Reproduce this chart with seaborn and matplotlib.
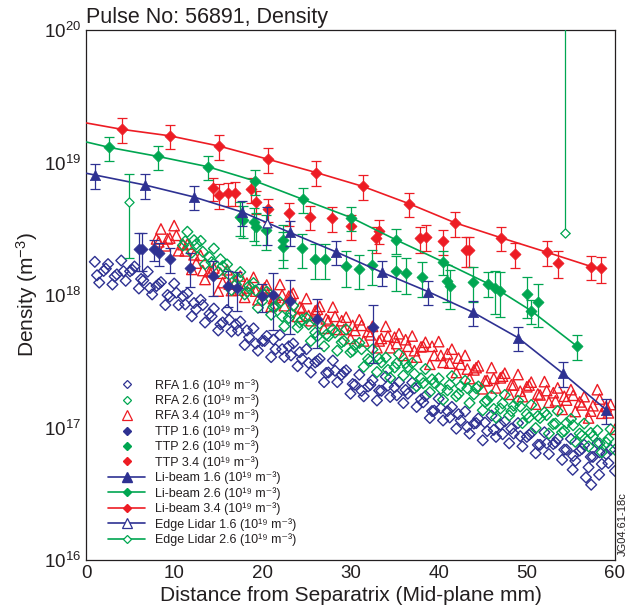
import numpy as np
import matplotlib
matplotlib.use("Agg")
import matplotlib.pyplot as plt
import seaborn as sns
from matplotlib.lines import Line2D
from matplotlib.ticker import LogLocator, NullFormatter, LogFormatterMathtext, FixedLocator

BLUE = "#2e3192"
GREEN = "#00a651"
RED = "#ed1c24"
INK = "#231f20"
UNIT = 1e17  # all density lists below are in units of 1e17 m^-3

TITLE = "Pulse No: 56891, Density"
XLABEL = "Distance from Separatrix (Mid-plane mm)"
YLABEL = "Density (m$^{-3}$)"
XTICKS = [0, 10, 20, 30, 40, 50, 60]
TAG = "JG04.61-18c"

# ---------------- RFA (reciprocating probe), first sweep ----------------
rfa16_x = [1.0, 1.5, 2.0, 2.5, 3.0, 3.5, 4.0, 4.5, 5.0, 5.5,
           6.0, 6.5, 7.0, 7.5, 8.0, 8.5, 9.0, 9.5, 10.0, 10.5,
           11.0, 11.5, 12.0, 12.5, 13.0, 13.5, 14.0, 14.5, 15.0, 15.5,
           16.0, 16.5, 17.0, 17.5, 18.0, 18.5, 19.0, 19.5, 20.0, 20.5,
           21.0, 21.5, 22.0, 22.5, 23.0, 23.5, 24.0, 24.5, 25.0, 25.5,
           26.0, 26.5, 27.0, 27.5, 28.0, 28.5, 29.0, 29.5, 30.0, 30.5,
           31.0, 31.5, 32.0, 32.5, 33.0, 33.5, 34.0, 34.5, 35.0, 35.5,
           36.0, 36.5, 37.0, 37.5, 38.0, 38.5, 39.0, 39.5, 40.0, 40.5,
           41.0, 41.5, 42.0, 42.5, 43.0, 43.5, 44.0, 44.5, 45.0, 45.5,
           46.0, 46.5, 47.0, 47.5, 48.0, 48.5, 49.0, 49.5, 50.0, 50.5,
           51.0, 51.5, 52.0, 52.5, 53.0, 53.5, 54.0, 54.5, 55.0, 55.5,
           56.0, 56.5, 57.0, 57.5, 58.0, 58.5, 59.0, 59.5, 60.0,
           55.2, 56.7, 57.3, 58.2]
rfa16_n = [17.8, 12.4, 15.2, 17.1, 12.0, 14.3, 18.2, 12.8, 15.1, 16.4,
           11.2, 12.9, 15.0, 10.1, 11.7, 12.5, 8.4, 9.7, 12.2, 8.4,
           9.8, 10.3, 6.9, 7.8, 9.2, 6.2, 7.2, 7.9, 5.4, 6.2,
           7.7, 5.3, 6.0, 6.3, 4.2, 4.8, 5.6, 3.8, 4.5, 4.9,
           3.4, 3.9, 5.0, 3.4, 4.1, 4.3, 2.9, 3.3, 3.9, 2.6,
           3.1, 3.3, 2.2, 2.6, 3.2, 2.2, 2.5, 2.7, 1.8, 2.1,
           2.5, 1.72, 2.04, 2.28, 1.6, 1.89, 2.42, 1.7, 2.01, 2.2,
           1.53, 1.8, 2.18, 1.43, 1.63, 1.73, 1.18, 1.34, 1.65, 1.13,
           1.33, 1.43, 0.98, 1.13, 1.32, 0.9, 1.07, 1.17, 0.8, 0.94,
           1.23, 0.85, 1.05, 1.11, 0.76, 0.9, 1.08, 0.72, 0.85, 0.91,
           0.64, 0.74, 0.92, 0.63, 0.75, 0.82, 0.57, 0.68, 0.82, 0.56,
           0.67, 0.74, 0.5, 0.6, 0.76, 0.53, 0.63, 0.68, 0.47,
           0.48, 0.42, 0.37, 0.44]

rfa26_x = [11.0, 11.5, 12.0, 12.5, 13.0, 13.5, 14.0, 14.5, 15.0, 15.5,
           16.0, 16.5, 17.0, 17.5, 18.0, 18.5, 19.0, 19.5, 20.0, 20.5,
           21.0, 21.5, 22.0, 22.5, 23.0, 23.5, 24.0, 24.5, 25.0, 25.5,
           26.0, 26.5, 27.0, 27.5, 28.0, 28.5, 29.0, 29.5, 30.0, 30.5,
           31.0, 31.5, 32.0, 32.5, 33.0, 33.5, 34.0, 34.5, 35.0, 35.5,
           36.0, 36.5, 37.0, 37.5, 38.0, 38.5, 39.0, 39.5, 40.0, 40.5,
           41.0, 41.5, 42.0, 42.5, 43.0, 43.5, 44.0, 44.5, 45.0, 45.5,
           46.0, 46.5, 47.0, 47.5, 48.0, 48.5, 49.0, 49.5, 50.0, 50.5,
           51.0, 51.5, 52.0, 52.5, 53.0, 53.5, 54.0, 54.5, 55.0, 55.5,
           56.0, 56.5, 57.0, 57.5, 58.0, 58.5, 59.0, 59.5, 60.0]
rfa26_n = [23.7, 30.0, 20.9, 24.2, 25.6, 17.1, 19.3, 22.4, 14.9, 16.5,
           17.0, 10.9, 12.0, 14.9, 10.1, 11.7, 12.3, 8.0, 9.0, 10.6,
           7.1, 8.2, 8.8, 5.8, 6.7, 8.3, 5.7, 6.5, 6.7, 4.5,
           5.2, 6.1, 4.1, 4.9, 5.5, 3.8, 4.4, 5.5, 3.7, 4.2,
           4.35, 2.87, 3.28, 3.88, 2.62, 3.1, 3.37, 2.37, 2.84, 3.57,
           2.47, 2.86, 3.07, 2.05, 2.35, 2.76, 1.85, 2.17, 2.35, 1.62,
           1.91, 2.44, 1.72, 2.05, 2.25, 1.53, 1.78, 2.04, 1.35, 1.6,
           1.74, 1.19, 1.39, 1.76, 1.23, 1.46, 1.59, 1.08, 1.26, 1.48,
           0.99, 1.18, 1.3, 0.9, 1.06, 1.33, 0.92, 1.08, 1.16, 0.78,
           0.9, 1.07, 0.72, 0.86, 0.95, 0.65, 0.77, 0.97, 0.68]

rfa34_x = [8.0, 8.5, 9.0, 9.5, 10.0, 10.5, 11.0, 11.5, 12.0, 12.5,
           13.0, 13.5, 14.0, 14.5, 15.0, 15.5, 16.0, 16.5, 17.0, 17.5,
           18.0, 18.5, 19.0, 19.5, 20.0, 20.5, 21.0, 21.5, 22.0, 22.5,
           23.0, 23.5, 24.0, 24.5, 25.0, 25.5, 26.0, 26.5, 27.0, 27.5,
           28.0, 28.5, 29.0, 29.5, 30.0, 30.5, 31.0, 31.5, 32.0, 32.5,
           33.0, 33.5, 34.0, 34.5, 35.0, 35.5, 36.0, 36.5, 37.0, 37.5,
           38.0, 38.5, 39.0, 39.5, 40.0, 40.5, 41.0, 41.5, 42.0, 42.5,
           43.0, 43.5, 44.0, 44.5, 45.0, 45.5, 46.0, 46.5, 47.0, 47.5,
           48.0, 48.5, 49.0, 49.5, 50.0, 50.5, 51.0, 51.5, 52.0, 52.5,
           53.0, 53.5, 54.0, 54.5, 55.0, 55.5, 56.0, 56.5, 57.0, 57.5,
           58.0, 58.5, 59.0, 59.5, 60.0]
rfa34_n = [26.5, 31.5, 23.5, 26.9, 33.4, 21.6, 24.0, 24.2, 15.6, 17.4,
           19.9, 13.1, 15.0, 16.0, 10.7, 12.4, 15.5, 10.8, 12.8, 13.9,
           9.6, 11.3, 13.6, 9.2, 10.9, 11.9, 8.2, 9.6, 12.0, 8.3,
           9.8, 10.3, 6.9, 7.9, 9.4, 6.4, 7.6, 8.2, 5.6, 6.4,
           8.1, 5.5, 6.4, 6.8, 4.7, 5.4, 6.5, 4.5, 5.3, 5.8,
           4.0, 4.7, 5.8, 4.0, 4.8, 5.1, 3.5, 4.1, 4.9, 3.4,
           4.06, 4.4, 3.0, 3.5, 4.45, 3.1, 3.6, 3.9, 2.6, 3.0,
           3.5, 2.34, 2.72, 2.92, 1.96, 2.27, 2.83, 1.99, 2.37, 2.57,
           1.78, 2.09, 2.51, 1.71, 2.03, 2.2, 1.5, 1.76, 2.22, 1.55,
           1.83, 1.99, 1.37, 1.61, 1.93, 1.32, 1.56, 1.71, 1.18, 1.46,
           1.93, 1.28, 1.44, 1.49, 0.97]

# ---------------- RFA, second sweep ----------------
rfa16_x2 = [1.25, 2.25, 3.25, 4.25, 5.25, 6.25, 7.25, 8.25, 9.25, 10.25,
            11.25, 12.25, 13.25, 14.25, 15.25, 16.25, 17.25, 18.25, 19.25, 20.25,
            21.25, 22.25, 23.25, 24.25, 25.25, 26.25, 27.25, 28.25, 29.25, 30.25,
            31.25, 32.25, 33.25, 34.25, 35.25, 36.25, 37.25, 38.25, 39.25, 40.25,
            41.25, 42.25, 43.25, 44.25, 45.25, 46.25, 47.25, 48.25, 49.25, 50.25,
            51.25, 52.25, 53.25, 54.25, 55.25, 56.25, 57.25, 58.25, 59.25]
rfa16_n2 = [14.1, 15.8, 13.8, 15.1, 15.5, 13.2, 11.3, 12.1, 10.0, 10.4,
            8.5, 8.7, 8.4, 6.9, 6.0, 6.5, 5.4, 5.4, 4.3, 4.5,
            4.6, 3.9, 3.5, 3.7, 3.07, 3.18, 2.58, 2.68, 2.62, 2.13,
            1.89, 2.1, 1.9, 2.07, 1.75, 1.92, 1.98, 1.55, 1.33, 1.4,
            1.19, 1.26, 1.01, 1.08, 1.09, 0.96, 0.89, 0.98, 0.86, 0.88,
            0.74, 0.76, 0.77, 0.68, 0.61, 0.69, 0.6, 0.65, 0.54]

rfa26_x2 = [11.25, 12.25, 13.25, 14.25, 15.25, 16.25, 17.25, 18.25, 19.25, 20.25,
            21.25, 22.25, 23.25, 24.25, 25.25, 26.25, 27.25, 28.25, 29.25, 30.25,
            31.25, 32.25, 33.25, 34.25, 35.25, 36.25, 37.25, 38.25, 39.25, 40.25,
            41.25, 42.25, 43.25, 44.25, 45.25, 46.25, 47.25, 48.25, 49.25, 50.25,
            51.25, 52.25, 53.25, 54.25, 55.25, 56.25, 57.25, 58.25, 59.25]
rfa26_n2 = [25.4, 25.9, 21.2, 17.7, 18.6, 14.2, 13.3, 10.6, 10.8, 10.0,
            8.1, 6.9, 7.3, 6.2, 6.0, 4.9, 5.0, 5.2, 4.5, 3.8,
            3.9, 3.18, 3.3, 2.72, 3.05, 3.06, 2.54, 2.16, 2.31, 1.96,
            2.11, 1.79, 1.98, 1.98, 1.56, 1.38, 1.52, 1.33, 1.44, 1.19,
            1.22, 1.24, 1.07, 0.94, 1.04, 0.87, 0.91, 0.76, 0.82]

rfa34_x2 = [8.25, 9.25, 10.25, 11.25, 12.25, 13.25, 14.25, 15.25, 16.25, 17.25,
            18.25, 19.25, 20.25, 21.25, 22.25, 23.25, 24.25, 25.25, 26.25, 27.25,
            28.25, 29.25, 30.25, 31.25, 32.25, 33.25, 34.25, 35.25, 36.25, 37.25,
            38.25, 39.25, 40.25, 41.25, 42.25, 43.25, 44.25, 45.25, 46.25, 47.25,
            48.25, 49.25, 50.25, 51.25, 52.25, 53.25, 54.25, 55.25, 56.25, 57.25,
            58.25, 59.25]
rfa34_n2 = [25.2, 26.5, 28.2, 21.5, 20.1, 15.3, 15.1, 14.6, 12.1, 10.9,
            12.3, 10.7, 11.3, 9.4, 10.0, 10.0, 8.1, 7.0, 7.8, 6.6,
            6.9, 5.5, 5.9, 5.9, 5.0, 4.5, 4.9, 4.3, 4.6, 3.8,
            4.1, 4.1, 3.5, 3.06, 3.34, 2.76, 2.83, 2.25, 2.35, 2.44,
            2.1, 1.88, 2.09, 1.79, 1.9, 1.59, 1.72, 1.75, 1.48, 1.33,
            1.64, 1.29]

# ---------------- TTP ----------------
ttp16_x = [6.05, 6.35, 7.75, 8.25, 9.56, 11.83, 14.37, 16.07, 17.13, 19.96,
           21.18, 23.14, 26.17, 32.52]
ttp16_n = [22.2, 22.2, 22.2, 20.6, 18.6, 16.1, 13.9, 11.7, 11.2, 9.8,
           10.0, 9.0, 6.6, 5.77]
ttp16_e = [7.0, 7.0, 4.0, 4.0, 4.0, 4.6, 4.1, 3.6, 3.6, 2.4,
           4.6, 3.9, 2.65, 2.7]

ttp26_x = [17.47, 17.77, 19.05, 19.28, 20.4, 22.3, 22.3, 24.5, 26.0, 27.07,
           29.5, 31.0, 32.4, 35.16, 36.3, 38.07, 41.0, 41.3, 43.9, 46.4,
           46.9, 50.0, 51.3]
ttp26_n = [39.0, 36.8, 35.7, 32.8, 30.9, 26.0, 23.1, 22.5, 18.6, 18.6,
           16.5, 15.6, 16.8, 15.2, 14.6, 13.6, 12.8, 11.6, 12.5, 11.2,
           10.8, 10.2, 8.9]
ttp26_e = [11, 10, 10, 9, 9, 7.5, 7, 6.5, 5.5, 5.5,
           5, 4.5, 5, 4.5, 4.5, 4, 4, 3.8, 3.7, 4,
           4, 3.5, 3.2]

ttp34_x = [14.37, 15.12, 16.14, 16.9, 18.68, 19.28, 20.6, 23.06, 25.4, 27.87,
           30.02, 32.9, 33.27, 37.88, 38.56, 40.52, 43.1, 43.47, 48.66, 53.57,
           58.41]
ttp34_n = [63.9, 56.9, 58.6, 59.2, 62.8, 50.6, 44.4, 41.4, 39.0, 37.9,
           33.2, 26.8, 30.6, 26.8, 27.6, 25.7, 21.9, 21.9, 20.4, 17.5,
           15.9]
ttp34_e = [13, 12, 12, 12, 13, 10, 9, 8.5, 8, 8,
           7, 6, 6.5, 6, 6, 5.5, 5.5, 5.5, 4.5, 4,
           3.6]

# ---------------- Li-beam (fit line; first point is the line start, no marker) ----
lb16_x = [0.0, 1.0, 6.7, 12.2, 17.7, 23.1, 28.4, 33.6, 38.8, 43.9, 49.0, 54.1, 59.0]
lb16_n = [83, 80.5, 67.6, 55, 42.3, 29.7, 21.1, 14.8, 10.6, 7.4, 4.76, 2.56, 1.36]
lb16_e = [17, 14.2, 11.5, 8.9, 6.2, 4.4, 3.1, 2.2, 1.55, 1.0, 0.54, 0.29]

lb26_x = [0.0, 2.64, 8.2, 13.8, 19.2, 24.6, 30.1, 35.2, 40.5, 45.6, 50.5, 55.7]
lb26_n = [143, 130, 111, 93, 72.4, 52.7, 38.3, 26.0, 17.8, 12.2, 7.6, 4.1]
lb26_e = [27, 23, 19.5, 15.2, 11.1, 8.0, 5.5, 3.7, 2.6, 1.6, 0.86]

lb34_x = [0.0, 4.05, 9.5, 15.1, 20.6, 26.1, 31.4, 36.6, 41.9, 47.1, 52.3, 57.3]
lb34_n = [199, 178, 159, 133, 106, 84, 66, 49, 35, 27, 21, 16.4]
lb34_e = [37, 33, 28, 22, 18, 14, 10, 7.4, 5.7, 4.4, 3.4]

# ---------------- Edge Lidar ----------------
el16_x = [20.5]
el16_n = [34.8]
el16_elo = [11]
el16_ehi = [11]

el26_x = [4.9, 54.3]
el26_n = [50.6, 29.4]
el26_elo = [31.5, 0.0]
el26_ehi = [31.5, 3000.0]

UNITS_TXT = "(10\u00b9\u2079 m\u207b\u00b3)"
LABELS = ["RFA 1.6 " + UNITS_TXT, "RFA 2.6 " + UNITS_TXT, "RFA 3.4 " + UNITS_TXT,
          "TTP 1.6 " + UNITS_TXT, "TTP 2.6 " + UNITS_TXT, "TTP 3.4 " + UNITS_TXT,
          "Li-beam 1.6 " + UNITS_TXT, "Li-beam 2.6 " + UNITS_TXT,
          "Li-beam 3.4 " + UNITS_TXT, "Edge Lidar 1.6 " + UNITS_TXT,
          "Edge Lidar 2.6 " + UNITS_TXT]


def d(v):
    return np.asarray(v, dtype=float) * UNIT


sns.set_style("white")
plt.rcParams["font.family"] = ["Liberation Sans", "DejaVu Sans"]
plt.rcParams["mathtext.fontset"] = "custom"
plt.rcParams["mathtext.rm"] = "Liberation Sans"
plt.rcParams["mathtext.it"] = "Liberation Sans:italic"
plt.rcParams["mathtext.bf"] = "Liberation Sans:bold"
plt.rcParams["text.color"] = INK
plt.rcParams["axes.labelcolor"] = INK

fig = plt.figure(figsize=(6.39, 6.11), dpi=100)
ax = fig.add_axes([86 / 639, 1 - 560 / 611, 529 / 639, 530 / 611])
ax.set_yscale("log")

# RFA scatter clouds
RFA_D = 30
RFA_T = 56
sns.scatterplot(x=rfa16_x + rfa16_x2, y=d(rfa16_n + rfa16_n2), ax=ax, marker="D",
                s=RFA_D, facecolor="none", edgecolor=BLUE, linewidth=1.0, zorder=2)
sns.scatterplot(x=rfa34_x + rfa34_x2, y=d(rfa34_n + rfa34_n2), ax=ax, marker="^",
                s=RFA_T, facecolor="none", edgecolor=RED, linewidth=1.0, zorder=2.1)
sns.scatterplot(x=rfa26_x + rfa26_x2, y=d(rfa26_n + rfa26_n2), ax=ax, marker="D",
                s=RFA_D, facecolor="none", edgecolor=GREEN, linewidth=1.0, zorder=2.2)

# TTP
for xs, ns, es, col in [(ttp34_x, ttp34_n, ttp34_e, RED),
                        (ttp26_x, ttp26_n, ttp26_e, GREEN),
                        (ttp16_x, ttp16_n, ttp16_e, BLUE)]:
    ax.errorbar(xs, d(ns), yerr=d(es), fmt="none", ecolor=col, elinewidth=0.9,
                capsize=3.5, capthick=0.9, zorder=3)
    sns.scatterplot(x=xs, y=d(ns), ax=ax, marker="D", s=32, color=col,
                    edgecolor=col, linewidth=0.5, zorder=3.1)

# Li-beam
for xs, ns, es, col, mk, ms in [(lb34_x, lb34_n, lb34_e, RED, "D", 32),
                                (lb26_x, lb26_n, lb26_e, GREEN, "D", 32),
                                (lb16_x, lb16_n, lb16_e, BLUE, "^", 55)]:
    sns.lineplot(x=xs, y=d(ns), ax=ax, color=col, linewidth=1.2, sort=False,
                 estimator=None, zorder=4)
    ax.errorbar(xs[1:], d(ns[1:]), yerr=d(es), fmt="none", ecolor=col,
                elinewidth=0.9, capsize=3.5, capthick=0.9, zorder=4)
    sns.scatterplot(x=xs[1:], y=d(ns[1:]), ax=ax, marker=mk, s=ms, color=col,
                    edgecolor=col, linewidth=0.5, zorder=4.2)

# Edge Lidar
ax.errorbar(el16_x, d(el16_n), yerr=[d(el16_elo), d(el16_ehi)], fmt="none",
            ecolor=BLUE, elinewidth=0.9, capsize=3.5, capthick=0.9, zorder=4.4)
sns.scatterplot(x=el16_x, y=d(el16_n), ax=ax, marker="^", s=40,
                facecolor="white", edgecolor=BLUE, linewidth=0.9, zorder=4.5)
ax.errorbar(el26_x, d(el26_n), yerr=[d(el26_elo), d(el26_ehi)], fmt="none",
            ecolor=GREEN, elinewidth=0.9, capsize=3.5, capthick=0.9, zorder=4.4)
sns.scatterplot(x=el26_x, y=d(el26_n), ax=ax, marker="D", s=22,
                facecolor="white", edgecolor=GREEN, linewidth=0.9, zorder=4.5)

ax.set_xlim(XTICKS[0], XTICKS[-1])
ax.set_ylim(1e16, 1e20)
ax.xaxis.set_major_locator(FixedLocator(XTICKS))
ax.yaxis.set_major_locator(LogLocator(base=10, numticks=10))
ax.yaxis.set_major_formatter(LogFormatterMathtext())
ax.yaxis.set_minor_locator(LogLocator(base=10, subs=np.arange(2, 10), numticks=100))
ax.yaxis.set_minor_formatter(NullFormatter())
ax.tick_params(axis="both", which="both", direction="in", labelsize=13.5,
               colors=INK, labelcolor=INK, top=False, right=False)
ax.tick_params(which="major", length=6, width=0.8)
ax.tick_params(which="minor", length=3.5, width=0.8)
ax.tick_params(axis="x", which="minor", bottom=False)
for sp in ax.spines.values():
    sp.set_visible(True)
    sp.set_color(INK)
    sp.set_linewidth(0.9)

ax.set_xlabel(XLABEL, fontsize=15, labelpad=3)
ax.set_ylabel(YLABEL, fontsize=15, labelpad=3)
ax.text(0.0, 1.004, TITLE, transform=ax.transAxes, fontsize=15.5,
        ha="left", va="bottom", color=INK)
fig.text(0.974, 0.09, TAG, rotation=90, ha="center", va="bottom", fontsize=8, color=INK)

handles = [
    Line2D([], [], ls="none", marker="D", ms=4.5, mfc="none", mec=BLUE, mew=0.9),
    Line2D([], [], ls="none", marker="D", ms=4.5, mfc="none", mec=GREEN, mew=0.9),
    Line2D([], [], ls="none", marker="^", ms=6.5, mfc="none", mec=RED, mew=0.9),
    Line2D([], [], ls="none", marker="D", ms=4.5, mfc=BLUE, mec=BLUE),
    Line2D([], [], ls="none", marker="D", ms=4.5, mfc=GREEN, mec=GREEN),
    Line2D([], [], ls="none", marker="D", ms=4.5, mfc=RED, mec=RED),
    Line2D([], [], color=BLUE, lw=1.2, marker="^", ms=6.5, mfc=BLUE, mec=BLUE),
    Line2D([], [], color=GREEN, lw=1.2, marker="D", ms=4.5, mfc=GREEN, mec=GREEN),
    Line2D([], [], color=RED, lw=1.2, marker="D", ms=4.5, mfc=RED, mec=RED),
    Line2D([], [], color=BLUE, lw=1.2, marker="^", ms=6.5, mfc="white", mec=BLUE, mew=0.9),
    Line2D([], [], color=GREEN, lw=1.2, marker="D", ms=4.5, mfc="white", mec=GREEN, mew=0.9),
]
leg = ax.legend(handles, LABELS, loc="upper left", bbox_to_anchor=(0.0416, 0.342),
                frameon=False, fontsize=9, handlelength=2.96, handletextpad=0.8,
                labelspacing=0.21, borderaxespad=0, borderpad=0)
for t in leg.get_texts():
    t.set_color(INK)

fig.savefig("out.png", dpi=100)
